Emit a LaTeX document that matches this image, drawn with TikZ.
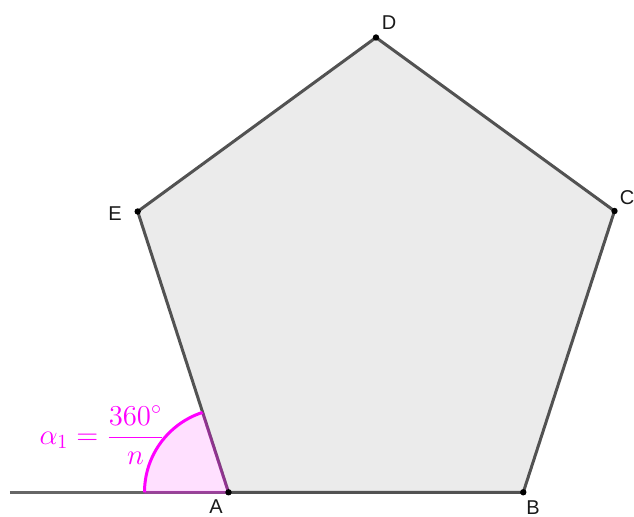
\documentclass[tikz,border=0pt]{standalone}
\usepackage{fontspec}
\setsansfont{Liberation Sans}
\begin{document}
\begin{tikzpicture}[x=0.5pt,y=-0.5pt,
  edge/.style={draw=black!68, line width=1.5pt, line join=round},
  vdot/.style={circle, fill=black, inner sep=0pt, minimum size=3.2pt},
  vlab/.style={font=\sffamily\fontsize{10}{12}\selectfont, text=black!90, inner sep=0pt},
]
\definecolor{magenta}{RGB}{255,0,255}
\definecolor{polyfill}{RGB}{235,235,235}
\path[use as bounding box] (0,0) rectangle (634,517);
\coordinate (A) at (228.5,492.3);
\coordinate (B) at (523.3,492.3);
\coordinate (C) at (614.5,211);
\coordinate (D) at (376,37.5);
\coordinate (E) at (137.7,211.5);
\coordinate (L) at (10,492.3);
% polygon
\fill[polyfill] (A) -- (B) -- (C) -- (D) -- (E) -- cycle;
\draw[draw=black!60, line width=1.5pt] (L) -- (A);
\draw[edge] (A) -- (B) -- (C) -- (D) -- (E) -- cycle;
% angle sector
\fill[magenta, fill opacity=0.12] (A) -- ++(180:84) arc[start angle=180, end angle=252, radius=84] -- cycle;
\draw[magenta, line width=1.5pt] (A) ++(180:84) arc[start angle=180, end angle=252, radius=84];
\draw[magenta, opacity=0.3, line width=1.5pt] (A) ++(180:84) -- (A) -- ++(252:84);
% vertices
\foreach \p in {A,B,C,D,E} \node[vdot] (\p dot) at (\p) {};
% labels
\node[vlab] (lA) at (216,507) {A};
\node[vlab] (lB) at (533,508) {B};
\node[vlab] (lC) at (627,198) {C};
\node[vlab] (lD) at (389,23) {D};
\node[vlab] (lE) at (115,214) {E};
\node[text=magenta, inner sep=0pt, font=\fontsize{13.8}{16}\selectfont] (alpha) at (102,435) {$\displaystyle \alpha_1=\frac{360^\circ}{n}$};
\end{tikzpicture}
\end{document}
